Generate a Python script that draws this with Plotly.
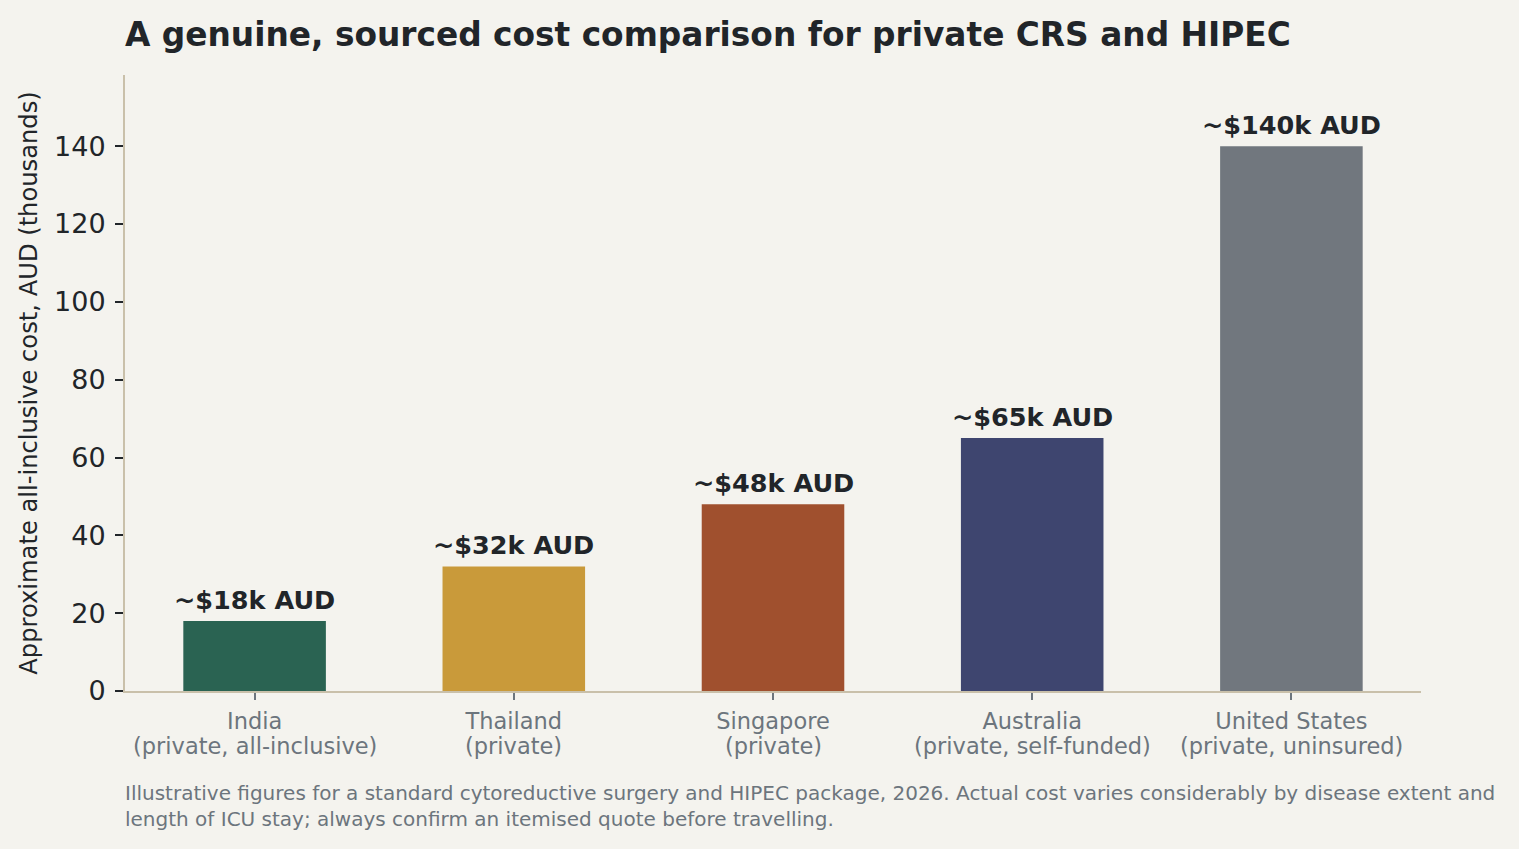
import plotly.graph_objects as go

# Данные
countries = ["India", "Thailand", "Singapore", "Australia", "United States"]
settings = ["(private, all-inclusive)", "(private)", "(private)",
            "(private, self-funded)", "(private, uninsured)"]
costs = [18, 32, 48, 65, 140]
bar_labels = ["~$18k AUD", "~$32k AUD", "~$48k AUD", "~$65k AUD", "~$140k AUD"]
bar_colors = ["#2a6352", "#c99a3a", "#a0502e", "#3e456f", "#71777e"]
y_ticks = [0, 20, 40, 60, 80, 100, 120, 140]

DARK = "#212529"
GREY = "#6c757d"
SPINE = "#c9c0aa"
BG = "#f4f3ee"
FONT = "DejaVu Sans"

fig = go.Figure()
fig.add_trace(go.Bar(x=countries, y=costs, marker=dict(color=bar_colors, line=dict(width=0)),
                     width=0.55, hoverinfo="skip"))

# Подписи над столбцами
for c, v, t in zip(countries, costs, bar_labels):
    fig.add_annotation(x=c, y=v, text=f"<b>{t}</b>", showarrow=False,
                       yanchor="bottom", yshift=4,
                       font=dict(family=FONT, size=25.5, color=DARK))

# Вторая строка подписей категорий (плотнее, чем межстрочный интервал plotly)
for c, s in zip(countries, settings):
    fig.add_annotation(x=c, y=0, text=s, showarrow=False,
                       yanchor="middle", yshift=-55,
                       font=dict(family=FONT, size=22.5, color=GREY))

fig.update_layout(
    width=1519, height=849,
    paper_bgcolor=BG, plot_bgcolor=BG,
    margin=dict(l=125, r=98, t=75, b=158),
    showlegend=False,
    font=dict(family=FONT, color=DARK),
    title=dict(text="<b>A genuine, sourced cost comparison for private CRS and HIPEC</b>",
               x=125 / 1519, xanchor="left", y=1 - 35 / 849, yanchor="middle",
               font=dict(family=FONT, size=32.8, color=DARK)),
    xaxis=dict(range=[-0.5, 4.5], showline=True, linecolor=SPINE, linewidth=2,
               ticks="outside", ticklen=7, tickcolor=GREY, tickwidth=1.5,
               ticklabelstandoff=2,
               tickfont=dict(family=FONT, size=22.5, color=GREY),
               showgrid=False, zeroline=False),
    yaxis=dict(range=[0, 158.3], tickvals=y_ticks, showline=True, linecolor=SPINE,
               linewidth=2, ticks="outside", ticklen=8, tickcolor=DARK, tickwidth=1.5,
               ticklabelstandoff=4,
               tickfont=dict(family=FONT, size=27, color=DARK),
               showgrid=False, zeroline=False,
               title=dict(text="Approximate all-inclusive cost, AUD (thousands)",
                          font=dict(family=FONT, size=24.2, color=DARK), standoff=10)),
)

# Сноска
fig.add_annotation(
    text="Illustrative figures for a standard cytoreductive surgery and HIPEC package, 2026. "
         "Actual cost varies considerably by disease extent and<br>"
         "length of ICU stay; always confirm an itemised quote before travelling.",
    xref="paper", yref="paper", x=0, y=-0.143, xanchor="left", yanchor="top",
    xshift=-2, align="left", showarrow=False,
    font=dict(family=FONT, size=20, color=GREY))

fig.write_html("out.html", config={"displayModeBar": False},
               post_script="document.body.style.margin='0';"
                           "document.body.style.background='%s';" % BG)
